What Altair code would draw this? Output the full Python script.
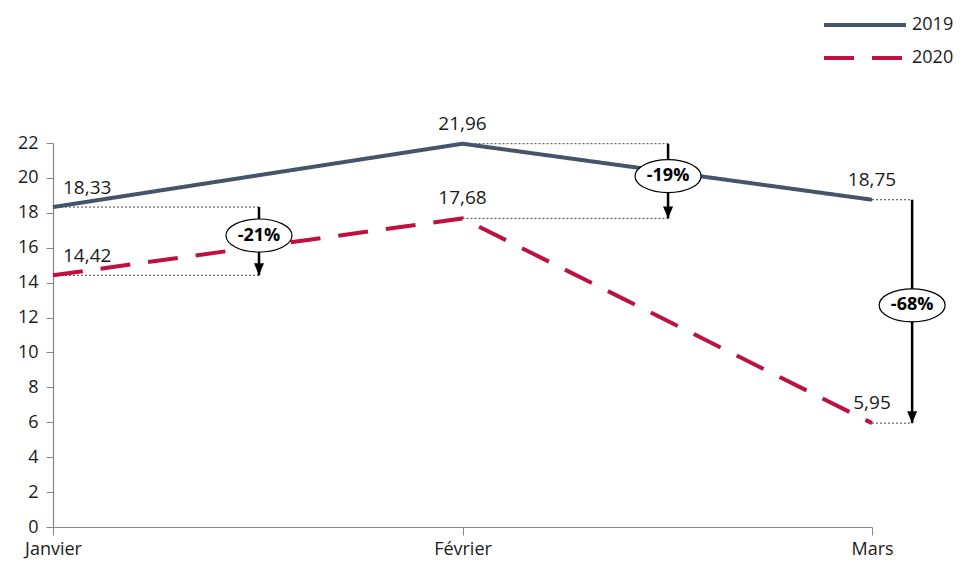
import altair as alt
import pandas as pd

# ---- data ----
months = ["Janvier", "Février", "Mars"]
series = ["2019", "2020"]
values_2019 = [18.33, 21.96, 18.75]
values_2020 = [14.42, 17.68, 5.95]
labels_2019 = ["18,33", "21,96", "18,75"]
labels_2020 = ["14,42", "17,68", "5,95"]
changes = ["-21%", "-19%", "-68%"]
arrow_pos = [0.503, 1.502, 2.098]     # x position of each arrow (month index units)
bubble_y = [16.7, 20.1, 12.7]         # vertical centre of each % bubble
y_ticks = list(range(0, 23, 2))
colors = ["#44546A", "#C0103F"]

FONT = "Open Sans"
TXT = "#1a1a1a"

# ---- tables ----
rows = []
for i, m in enumerate(months):
    rows.append({"i": i, "month": m, "serie": series[0], "value": values_2019[i], "label": labels_2019[i]})
    rows.append({"i": i, "month": m, "serie": series[1], "value": values_2020[i], "label": labels_2020[i]})
lines_df = pd.DataFrame(rows)

guide_rows = []
for i in range(len(months)):
    for v in (values_2019[i], values_2020[i]):
        guide_rows.append({"gx": i, "gx2": arrow_pos[i], "value": v})
guides_df = pd.DataFrame(guide_rows)

arrows_df = pd.DataFrame({
    "ax": arrow_pos,
    "hi": values_2019,
    "lo": values_2020,
    "by": bubble_y,
    "txt": changes,
})

label_expr = " : ".join(
    f"datum.value == {i} ? '{m}'" for i, m in enumerate(months[:-1])
) + f" : '{months[-1]}'"

xscale = alt.Scale(domain=[0, len(months) - 1], nice=False, zero=False)
yscale = alt.Scale(domain=[0, 22], nice=False)

x_axis = alt.Axis(values=list(range(len(months))), labelExpr=label_expr,
                  title=None, grid=False, tickSize=8, labelPadding=5, labelFlush=False,
                  domainColor="#868686", tickColor="#868686", domainWidth=1.2,
                  labelColor=TXT, labelFontSize=18, labelFont=FONT, labelBaseline="top")
y_axis = alt.Axis(values=y_ticks, title=None, grid=False, tickSize=7,
                  labelPadding=8, domainColor="#868686", tickColor="#868686", domainWidth=1.2,
                  labelColor=TXT, labelFontSize=18, labelFont=FONT)


def X(f):
    return alt.X(f, scale=xscale, axis=x_axis)


def Y(f):
    return alt.Y(f, scale=yscale, axis=y_axis)


legend = alt.Legend(title=None, orient="none", legendX=767, legendY=-127, padding=0,
                    symbolType="M -1 0 L 15.4 0", symbolSize=100,
                    symbolStrokeWidth=4, labelFontSize=18,
                    labelFont=FONT, labelColor=TXT,
                    labelOffset=74, rowPadding=15)

guides = alt.Chart(guides_df).mark_rule(color="#444", strokeWidth=1, strokeDash=[2, 2]).encode(
    x=X("gx:Q"), x2="gx2:Q", y=Y("value:Q"),
)

lines = alt.Chart(lines_df).mark_line(strokeWidth=4).encode(
    x=X("i:Q"),
    y=Y("value:Q"),
    color=alt.Color("serie:N", scale=alt.Scale(domain=series, range=colors), legend=legend),
    strokeDash=alt.StrokeDash("serie:N",
                              scale=alt.Scale(domain=series, range=[[1, 0], [30, 18]]),
                              legend=legend),
    detail="serie:N",
)

lbl_first = alt.Chart(lines_df).transform_filter("datum.i == 0").mark_text(
    align="left", dx=10, dy=-19, fontSize=19, font=FONT, color=TXT
).encode(x=X("i:Q"), y=Y("value:Q"), text="label:N")

lbl_rest = alt.Chart(lines_df).transform_filter("datum.i > 0").mark_text(
    align="center", dy=-20, fontSize=19, font=FONT, color=TXT
).encode(x=X("i:Q"), y=Y("value:Q"), text="label:N")

arrow_line = alt.Chart(arrows_df).mark_rule(color="black", strokeWidth=2.5).encode(
    x=X("ax:Q"), y=Y("hi:Q"), y2="lo:Q",
)

arrow_head = alt.Chart(arrows_df).mark_point(
    shape="M -1 -2.4 L 1 -2.4 L 0 0 Z", filled=True, color="black", size=100, opacity=1
).encode(x=X("ax:Q"), y=Y("lo:Q"))

bubble = alt.Chart(arrows_df).mark_point(
    shape="M -1 0 A 1 0.5 0 1 1 1 0 A 1 0.5 0 1 1 -1 0 Z",
    filled=True, fill="white", stroke="black", strokeWidth=1.2, size=4356, opacity=1
).encode(x=X("ax:Q"), y=Y("by:Q"))

bubble_txt = alt.Chart(arrows_df).mark_text(
    fontSize=18, fontWeight="bold", font=FONT, color="black", baseline="middle"
).encode(x=X("ax:Q"), y=Y("by:Q"), text="txt:N")

chart = alt.layer(
    guides, lines, lbl_first, lbl_rest, arrow_line, arrow_head, bubble, bubble_txt
).properties(
    width=819, height=384,
    autosize=alt.AutoSizeParams(type="none"),
    padding={"left": 45, "top": 135, "right": 84, "bottom": 33},
).configure(font=FONT).configure_view(stroke=None)

chart.save("out.html", embed_options={"renderer": "svg", "actions": False})
